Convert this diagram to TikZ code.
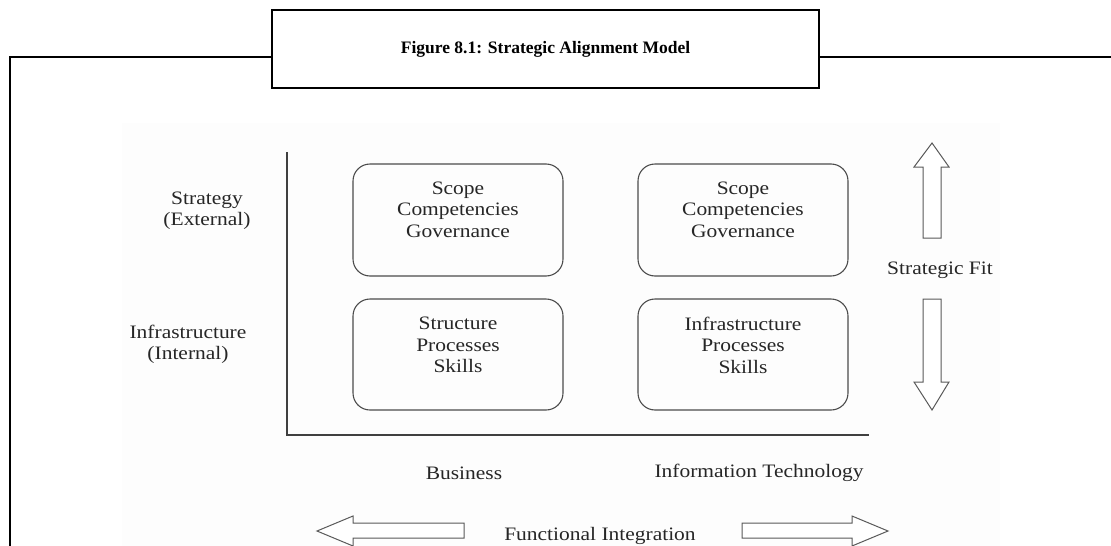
\documentclass[tikz,border=0pt]{standalone}
\usepackage{fontspec}
\setmainfont{Liberation Serif}
\newfontfamily\widefont{Liberation Serif}[FakeStretch=1.13]
\begin{document}
\begin{tikzpicture}[x=1pt,y=-1pt,
  frame/.style={line width=2.2pt,draw=black},
  qbox/.style={draw=black!70,line width=1.1pt,rounded corners=17pt,minimum width=210pt},
  lbl/.style={text=black!85,font=\widefont\fontsize{19}{21.5}\selectfont,align=center,inner sep=0pt},
  blk/.style={draw=black!65,line width=1pt,fill=white},
  axis/.style={draw=black!75,line width=1.4pt}]
\useasboundingbox (0,0) rectangle (1111,546);
\fill[white] (0,0) rectangle (1111,546);
\fill[black!0.7] (122,123) rectangle (1000,546);
% title and frame
\node[frame,minimum width=547pt,minimum height=78pt,inner sep=0pt] (title) at (545.5,49)
  {\fontsize{17.5}{20}\selectfont\bfseries Figure 8.1: Strategic Alignment Model};
\coordinate (fl) at (10,546);
\coordinate (ftl) at (10,57);
\coordinate (ftr) at (1111,57);
\draw[frame] (fl) -- (ftl) -- (ftl -| title.west);
\draw[frame] (title.east |- ftr) -- (ftr);
% axes
\coordinate (ay) at (287,152);
\coordinate (ao) at (287,435);
\coordinate (ax) at (869,435);
\draw[axis] (ay) -- (ao) -- (ax);
% boxes
\node[qbox,minimum height=112pt] (b1) at (458,220) {};
\node[qbox,minimum height=111pt] (b2) at (458,354.5) {};
\node[qbox,minimum height=112pt] (b3) at (743,220) {};
\node[qbox,minimum height=111pt] (b4) at (743,354.5) {};
\node[lbl] (t1) at (458,209.5) {Scope\\Competencies\\Governance};
\node[lbl] (t2) at (458,345) {Structure\\Processes\\Skills};
\node[lbl] (t3) at (743,209.5) {Scope\\Competencies\\Governance};
\node[lbl] (t4) at (743,345) {Infrastructure\\Processes\\Skills};
% side labels
\node[lbl] (ls) at (207,210.5) {Strategy\\(External)};
\node[lbl] (li) at (188,344.5) {Infrastructure\\(Internal)};
\node[lbl] (sf) at (940,270) {Strategic Fit};
\node[lbl] (bu) at (464,473) {Business};
\node[lbl] (it) at (759,473) {Information Technology};
\node[lbl] (fi) at (600,536) {Functional Integration};
% block arrows
\draw[blk] (932,143) -- (949,167) -- (941,167) -- (941,238) -- (923,238) -- (923,167) -- (914,167) -- cycle;
\draw[blk] (923,299) -- (941,299) -- (941,382) -- (949,382) -- (932,410) -- (914,382) -- (923,382) -- cycle;
\draw[blk] (317,531) -- (353,516) -- (353,523) -- (464,523) -- (464,538) -- (353,538) -- (353,546) -- cycle;
\draw[blk] (742,523) -- (852,523) -- (852,516) -- (888,531) -- (852,546) -- (852,538) -- (742,538) -- cycle;
\end{tikzpicture}
\end{document}
